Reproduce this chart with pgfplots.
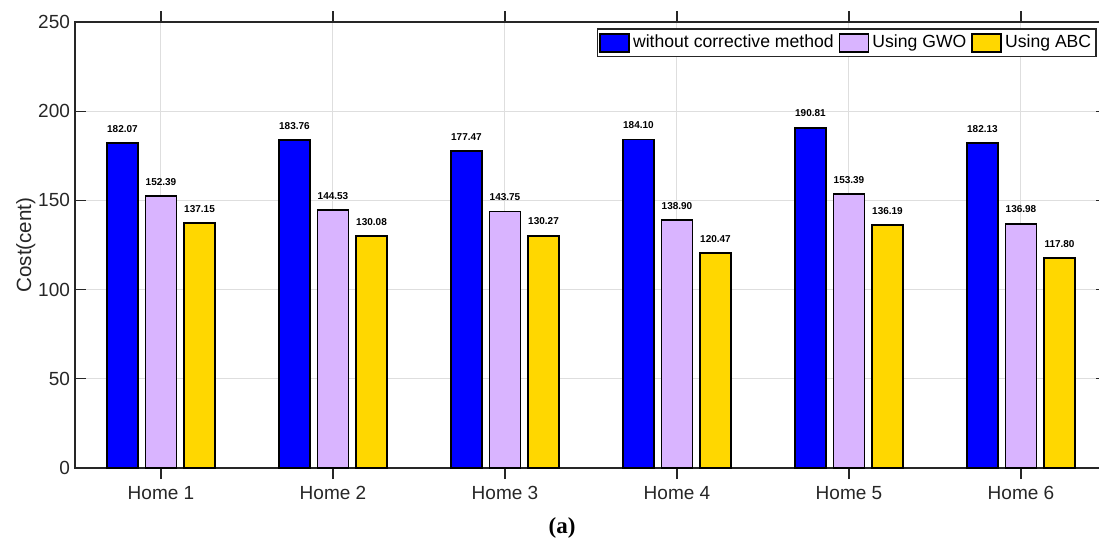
\documentclass[border=0pt]{standalone}
\usepackage{pgfplots}
\pgfplotsset{compat=1.18}
\usepackage{fontspec}
\setmainfont{Liberation Sans}
\newfontfamily\capfont{Liberation Serif}
\definecolor{cblue}{RGB}{0,0,255}
\definecolor{cpurple}{RGB}{217,180,255}
\definecolor{cyellow}{RGB}{255,215,0}
\definecolor{axgray}{RGB}{38,38,38}
\definecolor{gridgray}{RGB}{222,222,222}
\pgfplotstableread{
x a b c
1 182.07 152.39 137.15
2 183.76 144.53 130.08
3 177.47 143.75 130.27
4 184.10 138.90 120.47
5 190.81 153.39 136.19
6 182.13 136.98 117.80
}\data
\begin{document}
\begin{tikzpicture}
\begin{axis}[
  at={(37.5pt,35pt)}, anchor=south west,
  width=516pt, height=223pt, scale only axis,
  xmin=0.5, xmax=6.5, ymin=0, ymax=250,
  xtick={1,2,3,4,5,6},
  xticklabels={Home 1,Home 2,Home 3,Home 4,Home 5,Home 6},
  ytick={0,50,100,150,200,250},
  tick align=inside, major tick length=5.5pt,
  tick style={axgray, line width=0.6pt},
  axis line style={axgray, line width=0.75pt},
  grid=major, major grid style={gridgray, line width=0.5pt},
  ticklabel style={font=\fontsize{9.5}{11}\selectfont, text=axgray},
  yticklabel style={xshift=1pt},
  /pgf/number format/assume math mode=true,
  ylabel={Cost(cent)},
  ylabel style={font=\fontsize{10.3}{12}\selectfont, text=axgray, yshift=-5.5pt},
  ybar, bar width=0.18,
  legend image code/.code={\draw[#1, line width=0.9pt] (0pt,-4.5pt) rectangle (14.5pt,4.5pt);},
  nodes near coords={\pgfmathprintnumber[fixed,fixed zerofill,precision=2]{\pgfplotspointmeta}},
  nodes near coords style={font=\fontsize{5}{6}\selectfont\bfseries, text=black, yshift=1.5pt},
  legend columns=3,
  legend style={at={(0.9903,0.9865)}, anchor=north east, draw=axgray, line width=0.75pt,
    font=\fontsize{8.8}{10}\selectfont, inner sep=1pt,
    nodes={inner xsep=1.5pt},
    /tikz/every even column/.append style={column sep=1pt}},
  legend cell align=left,
]
\addplot[fill=cblue, draw=black, line width=0.9pt, bar shift=-0.224] table[x=x,y=a]{\data};
\addplot[fill=cpurple, draw=black, line width=0.9pt, bar shift=0] table[x=x,y=b]{\data};
\addplot[fill=cyellow, draw=black, line width=0.9pt, bar shift=0.224] table[x=x,y=c]{\data};
\legend{without corrective method, Using GWO, Using ABC}
\end{axis}
\node[font=\capfont\bfseries\fontsize{11.5}{13}\selectfont] at (281pt,5pt) {(a)};
\pgfresetboundingbox
\path[use as bounding box] (0,0) rectangle (549.5pt,269pt);
\end{tikzpicture}
\end{document}
